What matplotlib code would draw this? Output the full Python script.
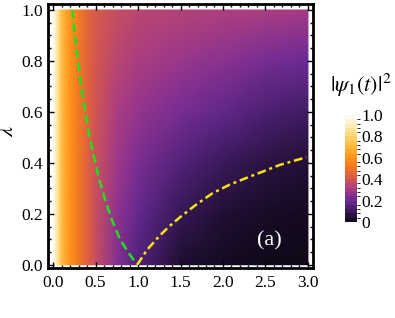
import numpy as np
import matplotlib
matplotlib.use('Agg')
import matplotlib.pyplot as plt
from matplotlib.colors import LinearSegmentedColormap, ListedColormap, BoundaryNorm

plt.rcParams['font.family'] = ['Liberation Serif', 'DejaVu Serif']
plt.rcParams['mathtext.fontset'] = 'stix'

# 网格数据
t_vals = [0, 0.05, 0.1, 0.15, 0.2, 0.3, 0.4, 0.5, 0.75, 1.0, 1.5, 2.0, 2.5, 3.0]
lam_vals = [0, 0.2, 0.4, 0.6, 0.8, 1.0]
psi_row_00 = [1.0, 0.86, 0.73, 0.65, 0.60, 0.52, 0.44, 0.37, 0.24, 0.15, 0.04, 0.02, 0.01, 0.01]
psi_row_02 = [1.0, 0.86, 0.73, 0.65, 0.60, 0.52, 0.44, 0.37, 0.26, 0.19, 0.09, 0.05, 0.03, 0.02]
psi_row_04 = [1.0, 0.86, 0.73, 0.65, 0.60, 0.52, 0.44, 0.38, 0.29, 0.23, 0.15, 0.10, 0.07, 0.05]
psi_row_06 = [1.0, 0.86, 0.73, 0.65, 0.60, 0.52, 0.45, 0.39, 0.31, 0.27, 0.22, 0.18, 0.14, 0.11]
psi_row_08 = [1.0, 0.86, 0.73, 0.65, 0.60, 0.52, 0.45, 0.40, 0.34, 0.31, 0.28, 0.25, 0.22, 0.20]
psi_row_10 = [1.0, 0.86, 0.73, 0.65, 0.60, 0.53, 0.46, 0.41, 0.37, 0.34, 0.33, 0.32, 0.31, 0.30]

# 两条边界曲线
green_t = [0.225, 0.277, 0.336, 0.415, 0.463, 0.534, 0.613, 0.692, 0.79, 0.89, 0.99]
green_lam = [1.0, 0.843, 0.686, 0.529, 0.451, 0.346, 0.255, 0.176, 0.098, 0.046, 0.0]
yellow_t = [0.99, 1.107, 1.246, 1.364, 1.503, 1.68, 1.878, 2.076, 2.27, 2.47, 2.67, 2.98]
yellow_lam = [0.0, 0.059, 0.111, 0.15, 0.189, 0.235, 0.281, 0.314, 0.34, 0.366, 0.392, 0.422]

cbar_ticks = [0, 0.2, 0.4, 0.6, 0.8, 1.0]
cbar_labels = ['0', '0.2', '0.4', '0.6', '0.8', '1.0']

# 类似 Mathematica SunsetColors 的色图
sunset = LinearSegmentedColormap.from_list('sunset', [
    (0.0, '#0c0612'),
    (0.1, '#3a1a5c'),
    (0.2, '#6a2a96'),
    (0.3, '#a63a88'),
    (0.4, '#d4574e'),
    (0.5, '#f07228'),
    (0.6, '#ff9419'),
    (0.7, '#ffb43a'),
    (0.8, '#ffd470'),
    (0.9, '#ffecb4'),
    (1.0, '#ffffff'),
])

Z = np.array([psi_row_00, psi_row_02, psi_row_04, psi_row_06, psi_row_08, psi_row_10])

fig = plt.figure(figsize=(3.95, 3.18), dpi=100)
ax = fig.add_axes([0.1215, 0.157, 0.671, 0.83])

ax.pcolormesh(t_vals, lam_vals, Z, cmap=sunset, vmin=0, vmax=1,
              shading='gouraud', rasterized=True)
ax.plot(green_t, green_lam, color='#22dd22', lw=1.8, ls=(0, (3.5, 1.8)))
ax.plot(yellow_t, yellow_lam, color='#f5e612', lw=1.8, ls=(0, (3.5, 1.5, 1.2, 1.5)))

ax.set_xlim(-0.06, 3.06)
ax.set_ylim(-0.013, 1.023)
ax.set_xticks([0, 0.5, 1.0, 1.5, 2.0, 2.5, 3.0])
ax.set_xticklabels(['0.0', '0.5', '1.0', '1.5', '2.0', '2.5', '3.0'])
ax.set_yticks([0, 0.2, 0.4, 0.6, 0.8, 1.0])
ax.set_yticklabels(['0.0', '0.2', '0.4', '0.6', '0.8', '1.0'])
ax.set_xticks(np.arange(0, 3.01, 0.1), minor=True)
ax.set_yticks(np.arange(0, 1.01, 0.05), minor=True)
ax.tick_params(which='both', direction='in', top=True, right=True, labelsize=12.5,
               width=1.0, color='black')
ax.tick_params(which='major', length=4)
ax.tick_params(which='minor', length=2)
ax.tick_params(axis='x', pad=5)
for s in ax.spines.values():
    s.set_linewidth(2.0)
ax.set_ylabel(r'$\lambda$', fontsize=16)
ax.yaxis.set_label_coords(-0.115, 0.52)
ax.text(2.55, 0.095, '(a)', color='white', fontsize=16, ha='center', va='center')

# 色条 (分段)
cax = fig.add_axes([0.873, 0.302, 0.031, 0.336])
bounds = np.linspace(0, 1, 26)
band_cmap = ListedColormap(sunset((bounds[:-1] + bounds[1:]) / 2))
sm = plt.cm.ScalarMappable(cmap=band_cmap, norm=BoundaryNorm(bounds, band_cmap.N))
cb = fig.colorbar(sm, cax=cax, ticks=cbar_ticks)
cb.set_ticklabels(cbar_labels)
cb.outline.set_visible(False)
cb.ax.tick_params(length=0, labelsize=12.5, pad=3)
fig.text(0.912, 0.73, r'$|\psi_1(t)|^2$', fontsize=16, ha='center', va='center')

plt.savefig('out.png', dpi=100)
